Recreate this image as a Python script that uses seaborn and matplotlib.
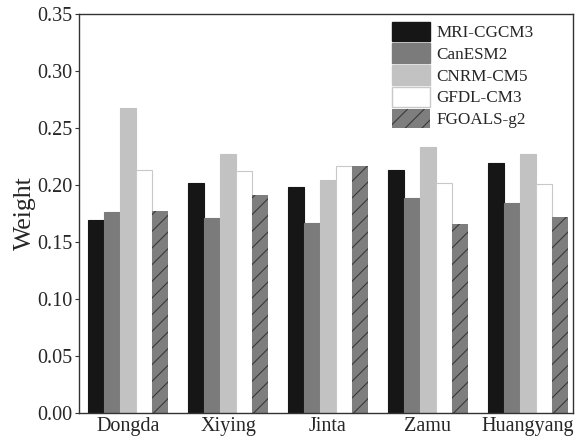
import matplotlib
matplotlib.use("Agg")
import matplotlib.pyplot as plt
import seaborn as sns
import pandas as pd

stations = ["Dongda", "Xiying", "Jinta", "Zamu", "Huangyang"]
models = ["MRI-CGCM3", "CanESM2", "CNRM-CM5", "GFDL-CM3", "FGOALS-g2"]
mri = [0.169, 0.202, 0.198, 0.213, 0.219]
canesm = [0.176, 0.171, 0.167, 0.189, 0.184]
cnrm = [0.268, 0.227, 0.204, 0.233, 0.227]
gfdl = [0.213, 0.212, 0.217, 0.202, 0.201]
fgoals = [0.177, 0.191, 0.217, 0.166, 0.172]
colors = ["#161616", "#7b7b7b", "#c2c2c2", "#ffffff", "#7e7e7e"]

series = [mri, canesm, cnrm, gfdl, fgoals]
rows = []
for m, vals in zip(models, series):
    for s, v in zip(stations, vals):
        rows.append({"Station": s, "Model": m, "Weight": v})
df = pd.DataFrame(rows)

sns.set_style("ticks")
plt.rcParams["font.family"] = ["Liberation Serif", "DejaVu Serif"]
plt.rcParams["hatch.linewidth"] = 0.8

fig, ax = plt.subplots(figsize=(5.78, 4.43), dpi=100)
fig.subplots_adjust(left=0.137, right=0.991, top=0.968, bottom=0.068)

sns.barplot(data=df, x="Station", y="Weight", hue="Model", order=stations,
            hue_order=models, palette=colors, width=0.8, saturation=1,
            ax=ax, legend=True)

edgecols = ["#161616", "#7b7b7b", "#c2c2c2", "#c8c8c8", "#3a3a3a"]
for i, cont in enumerate(ax.containers):
    for p in cont:
        p.set_edgecolor(edgecols[i])
        p.set_linewidth(0.8)
        if i == 4:
            p.set_hatch("//")
            p.set_linewidth(0.0)

ax.set_ylim(0, 0.35)
ax.set_xlim(-0.49, 4.45)
ax.set_yticks([0.0, 0.05, 0.10, 0.15, 0.20, 0.25, 0.30, 0.35])
ax.set_yticklabels([f"{v:.2f}" for v in ax.get_yticks()])
ax.set_xlabel("")
ax.set_ylabel("Weight", fontsize=18.5, labelpad=1)
ax.tick_params(axis="y", labelsize=14.5, length=3, width=0.8, direction="out",
               color="#333333", pad=2)
ax.tick_params(axis="x", labelsize=14.5, length=0, pad=3)
for sp in ax.spines.values():
    sp.set_visible(True)
    sp.set_linewidth(1.0)
    sp.set_color("#333333")

handles, labels = ax.get_legend_handles_labels()
for h, ec in zip(handles, edgecols):
    h.set_edgecolor(ec)
handles[4].set_hatch("//")
handles[4].set_edgecolor("#3a3a3a")
handles[4].set_linewidth(0.0)
leg = ax.legend(handles, labels, loc="upper left", bbox_to_anchor=(0.627, 0.99),
                frameon=False, fontsize=12.3, handlelength=2.2, handleheight=1.4,
                labelspacing=0.12, handletextpad=0.4, borderaxespad=0.0,
                borderpad=0.2)

fig.savefig("out.png", dpi=100)
